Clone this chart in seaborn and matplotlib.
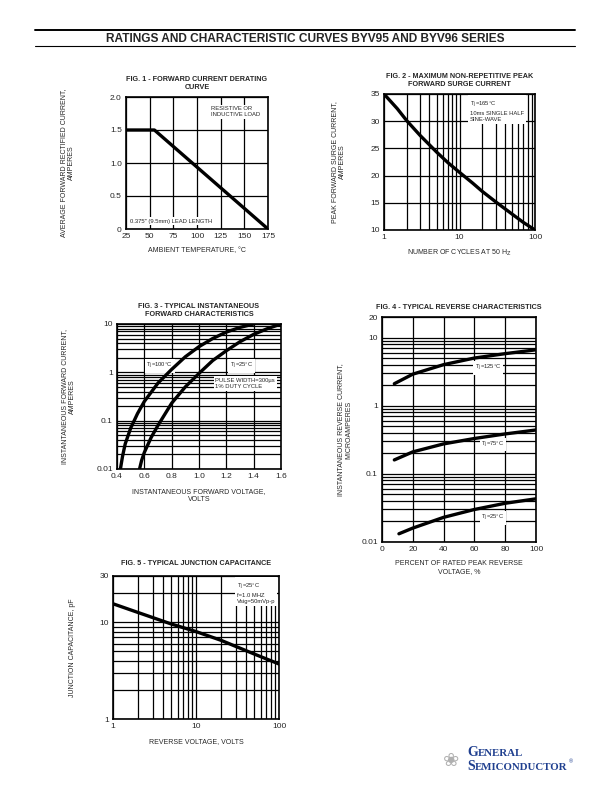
import numpy as np
import matplotlib as mpl
import matplotlib.pyplot as plt
import seaborn as sns
from matplotlib.ticker import FixedLocator, NullFormatter

sns.set_style('white')
plt.rcParams['font.family'] = ['Liberation Sans', 'DejaVu Sans']
plt.rcParams['axes.linewidth'] = 1.2
plt.rcParams['xtick.major.size'] = 0
plt.rcParams['ytick.major.size'] = 0
plt.rcParams['xtick.minor.size'] = 0
plt.rcParams['ytick.minor.size'] = 0
TickFont = 6
LabelFont = 5
TitleFont = 5.2
NoteFont = 4.2
CurveWidth = 2.4
GridWidth = 0.9

# ---------------- data ----------------
# fig 1 derating
f1_temp = [25, 55, 175]
f1_amps = [1.5, 1.5, 0.0]
# fig 2 surge current
f2_cycles = [1, 1.5, 2, 3, 5, 7, 10, 15, 20, 30, 50, 70, 100]
f2_amps = [35.0, 32.3, 30.1, 27.4, 24.3, 22.4, 20.6, 18.6, 17.1, 15.2, 12.9, 11.4, 10.0]
# fig 3 forward characteristics
f3_v100 = [0.425, 0.44, 0.46, 0.5, 0.55, 0.6, 0.7, 0.8, 0.9, 1.0, 1.1, 1.2, 1.3, 1.4]
f3_i100 = [0.01, 0.018, 0.033, 0.07, 0.14, 0.25, 0.6, 1.15, 2.1, 3.4, 5.0, 6.8, 8.5, 10.0]
f3_v25 = [0.565, 0.58, 0.6, 0.65, 0.7, 0.8, 0.9, 1.0, 1.1, 1.2, 1.3, 1.4, 1.5, 1.6]
f3_i25 = [0.01, 0.015, 0.022, 0.045, 0.08, 0.23, 0.5, 0.95, 1.75, 2.8, 4.3, 6.1, 8.0, 10.0]
# fig 4 reverse characteristics
f4_pct = [8, 20, 40, 60, 80, 100]
f4_i125 = [2.1, 2.9, 4.0, 5.0, 5.8, 6.6]
f4_i75 = [0.16, 0.21, 0.275, 0.33, 0.385, 0.44]
f4_pct25 = [11, 20, 40, 60, 80, 100]
f4_i25 = [0.0132, 0.016, 0.023, 0.030, 0.037, 0.043]
# fig 5 junction capacitance
f5_volts = [1, 2, 5, 10, 20, 50, 100]
f5_pf = [15.5, 12.6, 9.6, 8.0, 6.5, 4.7, 3.7]

fig = plt.figure(figsize=(6.12, 7.92), dpi=100)

def px(left, top, right, bottom):
    return [left / 612, 1 - bottom / 792, (right - left) / 612, (bottom - top) / 792]

def style(ax):
    ax.tick_params(labelsize=TickFont, pad=3)
    ax.grid(True, which='both', color='black', linewidth=GridWidth)
    for s in ax.spines.values():
        s.set_color('black')
    ax.set_axisbelow(True)

def curve(ax, x, y):
    sns.lineplot(x=x, y=y, ax=ax, color='black', linewidth=CurveWidth, zorder=4)

def note(ax, x, y, s, **kw):
    ax.text(x, y, s, fontsize=NoteFont, zorder=3, linespacing=1.3,
            bbox=dict(facecolor='white', edgecolor='none', pad=1.2), **kw)

dec = [2, 3, 4, 5, 6, 7, 8, 9]

# header
fig.add_artist(plt.Line2D([35 / 612, 575 / 612], [1 - 30 / 792] * 2, color='black', lw=1.4))
fig.add_artist(plt.Line2D([35 / 612, 575 / 612], [1 - 46 / 792] * 2, color='black', lw=0.8))
fig.text(305 / 612, 1 - 38.5 / 792, 'RATINGS AND CHARACTERISTIC CURVES BYV95 AND BYV96 SERIES',
         ha='center', va='center', fontsize=8.6, fontweight='bold')

# ---------------- fig 1 ----------------
ax1 = fig.add_axes(px(126, 97, 268, 229))
curve(ax1, f1_temp, f1_amps)
ax1.set_xlim(25, 175)
ax1.set_ylim(0, 2.0)
ax1.set_xticks(range(25, 176, 25))
ax1.set_yticks([0, 0.5, 1.0, 1.5, 2.0])
ax1.set_yticklabels(['0', '0.5', '1.0', '1.5', '2.0'])
style(ax1)
ax1.set_title('FIG. 1 - FORWARD CURRENT DERATING\nCURVE', fontsize=TitleFont, fontweight='bold', pad=6, linespacing=1.1)
ax1.set_xlabel('AMBIENT TEMPERATURE, °C', fontsize=LabelFont, labelpad=5)
ax1.set_ylabel('AVERAGE FORWARD RECTIFIED CURRENT,\nAMPERES', fontsize=LabelFont)
ax1.yaxis.set_label_coords(-0.36, 0.5)
note(ax1, 0.6, 0.93, 'RESISTIVE OR\nINDUCTIVE LOAD', transform=ax1.transAxes, va='top', ha='left')
note(ax1, 0.03, 0.06, '0.375" (9.5mm) LEAD LENGTH', transform=ax1.transAxes, va='center', ha='left')

# ---------------- fig 2 ----------------
ax2 = fig.add_axes(px(384, 94, 535, 230))
curve(ax2, f2_cycles, f2_amps)
ax2.set_xscale('log')
ax2.set_xlim(1, 100)
ax2.set_ylim(10, 35)
ax2.xaxis.set_major_locator(FixedLocator([1, 10, 100]))
ax2.xaxis.set_minor_locator(FixedLocator(dec + [d * 10 for d in dec]))
ax2.xaxis.set_minor_formatter(NullFormatter())
ax2.set_xticklabels(['1', '10', '100'])
ax2.set_yticks(range(10, 36, 5))
style(ax2)
ax2.set_title('FIG. 2 - MAXIMUM NON-REPETITIVE PEAK\nFORWARD SURGE CURRENT', fontsize=TitleFont, fontweight='bold', pad=6, linespacing=1.1)
ax2.set_xlabel('NUMBER OF CYCLES AT 50 H$_{\\mathrm{Z}}$', fontsize=LabelFont, labelpad=5)
ax2.set_ylabel('PEAK FORWARD SURGE CURRENT,\nAMPERES', fontsize=LabelFont)
ax2.yaxis.set_label_coords(-0.25, 0.5)
note(ax2, 0.57, 0.96, 'T$_\\mathrm{J}$=165°C\n10ms SINGLE HALF\nSINE-WAVE', transform=ax2.transAxes, va='top', ha='left')

# ---------------- fig 3 ----------------
ax3 = fig.add_axes(px(117, 324, 281, 469))
curve(ax3, f3_v100, f3_i100)
curve(ax3, f3_v25, f3_i25)
ax3.set_yscale('log')
ax3.set_xlim(0.4, 1.6)
ax3.set_ylim(0.01, 10)
ax3.set_xticks([0.4, 0.6, 0.8, 1.0, 1.2, 1.4, 1.6])
ax3.set_xticklabels(['0.4', '0.6', '0.8', '1.0', '1.2', '1.4', '1.6'])
ax3.yaxis.set_major_locator(FixedLocator([0.01, 0.1, 1, 10]))
ax3.yaxis.set_minor_locator(FixedLocator([d * 0.01 for d in dec] + [d * 0.1 for d in dec] + dec))
ax3.yaxis.set_minor_formatter(NullFormatter())
ax3.set_yticklabels(['0.01', '0.1', '1', '10'])
style(ax3)
ax3.set_title('FIG. 3 - TYPICAL INSTANTANEOUS\nFORWARD CHARACTERISTICS', fontsize=TitleFont, fontweight='bold', pad=6, linespacing=1.1)
ax3.set_xlabel('INSTANTANEOUS FORWARD VOLTAGE,\nVOLTS', fontsize=LabelFont, labelpad=6)
ax3.set_ylabel('INSTANTANEOUS FORWARD CURRENT,\nAMPERES', fontsize=LabelFont)
ax3.yaxis.set_label_coords(-0.25, 0.5)
note(ax3, 0.26, 0.71, 'T$_\\mathrm{J}$=100°C', transform=ax3.transAxes, ha='center', va='center')
note(ax3, 0.76, 0.71, 'T$_\\mathrm{J}$=25°C', transform=ax3.transAxes, ha='center', va='center')
note(ax3, 0.6, 0.59, 'PULSE WIDTH=300\u00b5s\n1% DUTY CYCLE', transform=ax3.transAxes, ha='left', va='center')

# ---------------- fig 4 ----------------
ax4 = fig.add_axes(px(382, 317, 536, 542))
curve(ax4, f4_pct, f4_i125)
curve(ax4, f4_pct, f4_i75)
curve(ax4, f4_pct25, f4_i25)
ax4.set_yscale('log')
ax4.set_xlim(0, 100)
ax4.set_ylim(0.01, 20)
ax4.set_xticks(range(0, 101, 20))
ax4.yaxis.set_major_locator(FixedLocator([0.01, 0.1, 1, 10, 20]))
ax4.yaxis.set_minor_locator(FixedLocator([d * 0.01 for d in dec] + [d * 0.1 for d in dec] + dec))
ax4.yaxis.set_minor_formatter(NullFormatter())
ax4.set_yticklabels(['0.01', '0.1', '1', '10', '20'])
style(ax4)
ax4.set_title('FIG. 4 - TYPICAL REVERSE CHARACTERISTICS', fontsize=TitleFont, fontweight='bold', pad=6)
ax4.set_xlabel('PERCENT OF RATED PEAK REVERSE\nVOLTAGE, %', fontsize=LabelFont, labelpad=5)
ax4.set_ylabel('INSTANTANEOUS REVERSE CURRENT,\nMICROAMPERES', fontsize=LabelFont)
ax4.yaxis.set_label_coords(-0.195, 0.5)
for xx, yy, lab in [(0.69, 3.6, 'T$_\\mathrm{J}$=125°C'), (0.72, 0.27, 'T$_\\mathrm{J}$=75°C'), (0.72, 0.0225, 'T$_\\mathrm{J}$=25°C')]:
    note(ax4, xx, yy, lab, transform=ax4.get_yaxis_transform(), ha='center', va='center')

# ---------------- fig 5 ----------------
ax5 = fig.add_axes(px(113, 576, 279, 719))
curve(ax5, f5_volts, f5_pf)
ax5.set_xscale('log')
ax5.set_yscale('log')
ax5.set_xlim(1, 100)
ax5.set_ylim(1, 30)
ax5.xaxis.set_major_locator(FixedLocator([1, 10, 100]))
ax5.xaxis.set_minor_locator(FixedLocator(dec + [d * 10 for d in dec]))
ax5.xaxis.set_minor_formatter(NullFormatter())
ax5.set_xticklabels(['1', '10', '100'])
ax5.yaxis.set_major_locator(FixedLocator([1, 10, 30]))
ax5.yaxis.set_minor_locator(FixedLocator(dec + [20]))
ax5.yaxis.set_minor_formatter(NullFormatter())
ax5.set_yticklabels(['1', '10', '30'])
style(ax5)
ax5.set_title('FIG. 5 - TYPICAL JUNCTION CAPACITANCE', fontsize=TitleFont, fontweight='bold', pad=8)
ax5.set_xlabel('REVERSE VOLTAGE, VOLTS', fontsize=LabelFont, labelpad=6)
ax5.set_ylabel('JUNCTION CAPACITANCE, pF', fontsize=LabelFont)
ax5.yaxis.set_label_coords(-0.223, 0.5)
note(ax5, 0.745, 0.96, 'T$_\\mathrm{J}$=25°C\nf=1.0 MHZ\nVsig=50mVp-p', transform=ax5.transAxes, va='top', ha='left')

# logo
blue = '#1f3f8f'
fig.text(467 / 612, 1 - 753 / 792, 'G', color=blue, fontsize=10, fontweight='bold', family='Liberation Serif', va='center')
fig.text(478 / 612, 1 - 753.5 / 792, 'ENERAL', color=blue, fontsize=7.8, fontweight='bold', family='Liberation Serif', va='center')
fig.text(467 / 612, 1 - 767 / 792, 'S', color=blue, fontsize=10, fontweight='bold', family='Liberation Serif', va='center')
fig.text(475 / 612, 1 - 767.5 / 792, 'EMICONDUCTOR', color=blue, fontsize=7.8, fontweight='bold', family='Liberation Serif', va='center')
fig.text(569 / 612, 1 - 762 / 792, '®', color=blue, fontsize=4, va='center')
fig.text(451 / 612, 1 - 760 / 792, '\u2740', color='#b0b0b0', fontsize=14, ha='center', va='center', family='DejaVu Sans')

plt.savefig('out.png', dpi=100)
